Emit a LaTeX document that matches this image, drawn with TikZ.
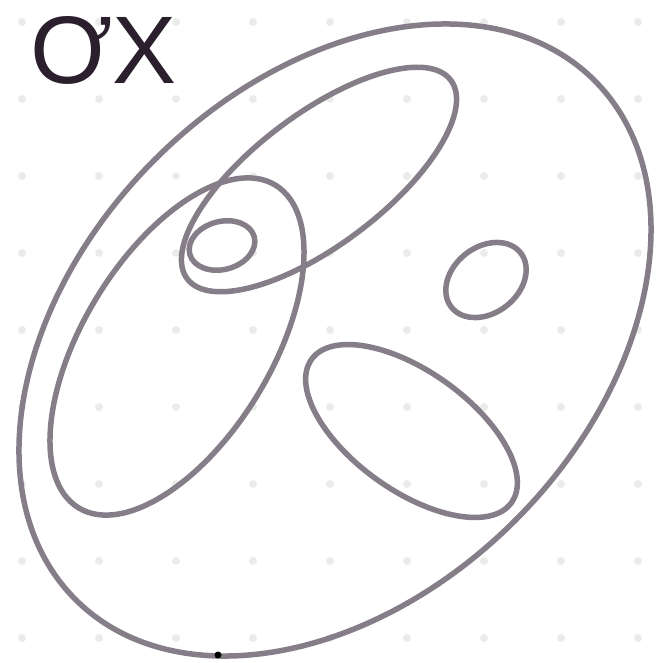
\documentclass[tikz,border=0pt]{standalone}
\usepackage{fontspec}
\setmainfont{Liberation Sans}
\definecolor{ringgray}{HTML}{857D88}
\definecolor{inkdark}{HTML}{2B1F2D}
\definecolor{dotgray}{HTML}{E9ECE9}

\begin{document}
\begin{tikzpicture}[x=1pt,y=-1pt,
  ring/.style={draw=ringgray,line width=5.5pt}]
  \useasboundingbox (0,0) rectangle (665,663);
  % dot grid
  \foreach \i in {0,...,8}{
    \foreach \j in {0,...,8}{
      \fill[dotgray] ({22+77*\i},{22+77*\j}) circle (4);
    }
  }
  % label
  \node[anchor=base west,inner sep=0pt,text=inkdark,font=\fontsize{96}{96}\selectfont] (title) at (30,84) {ƠX};
  % outer set
  \draw[ring] (335,340) ellipse [x radius=367,y radius=255,rotate=45];
  % upper and left sets, crossing
  \draw[ring] (319,179.5) ellipse [x radius=165,y radius=65.5,rotate=37];
  \draw[ring] (177,346.5) ellipse [x radius=189,y radius=94,rotate=58.6];
  % small sets
  \draw[ring] (222,245.5) ellipse [x radius=33.4,y radius=24,rotate=15];
  \draw[ring] (486,280) ellipse [x radius=44,y radius=33,rotate=38];
  % lower right set
  \draw[ring] (411.5,431) ellipse [x radius=123,y radius=59.6,rotate=-35.6];
  \fill[black] (218,655) circle (3.5);
\end{tikzpicture}
\end{document}
